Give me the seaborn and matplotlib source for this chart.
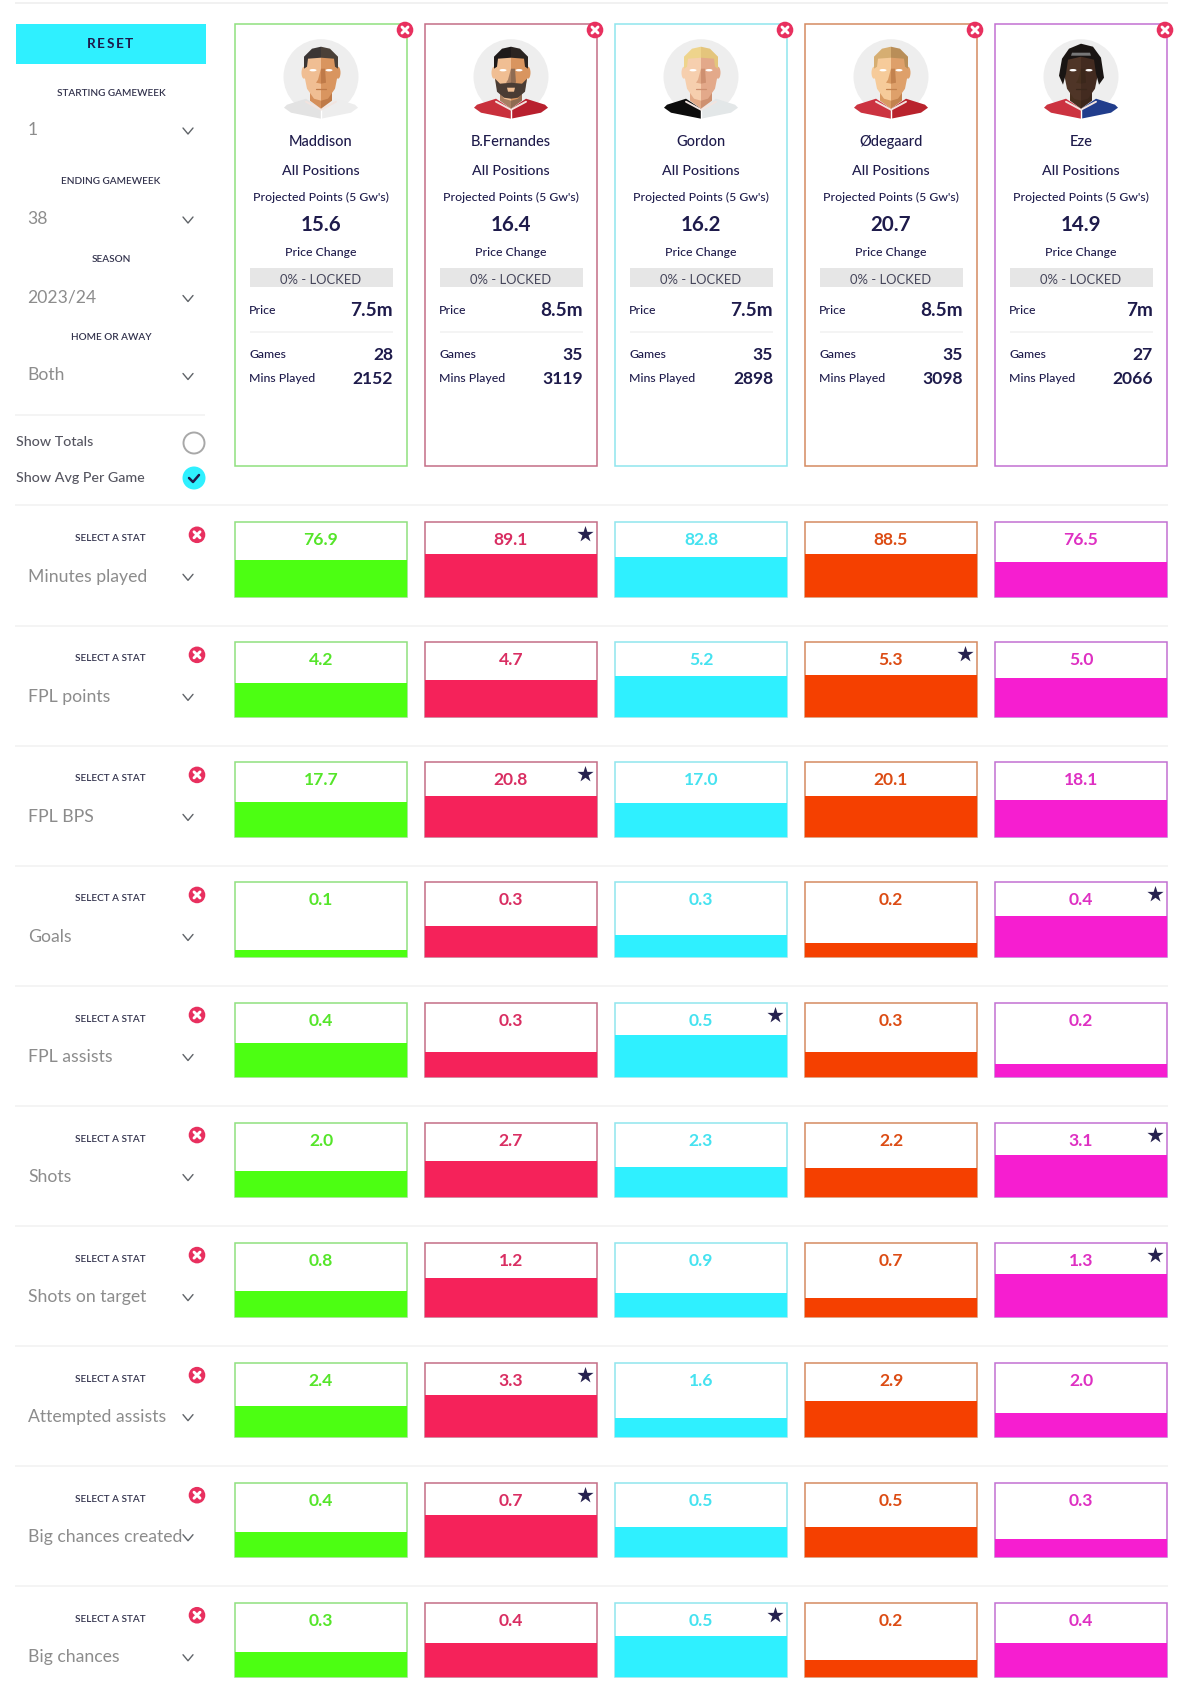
import matplotlib
matplotlib.use("Agg")
import matplotlib.pyplot as plt
from matplotlib.patches import Circle, Ellipse, Polygon, Rectangle
import pandas as pd
import seaborn as sns

# ---------- data ----------
players = ["Maddison", "B.Fernandes", "Gordon", "Ødegaard", "Eze"]
projected = [15.6, 16.4, 16.2, 20.7, 14.9]
prices = ["7.5m", "8.5m", "7.5m", "8.5m", "7m"]
games = [28, 35, 35, 35, 27]
mins_played = [2152, 3119, 2898, 3098, 2066]

stat_names = ["Minutes played", "FPL points", "FPL BPS", "Goals", "FPL assists",
              "Shots", "Shots on target", "Attempted assists",
              "Big chances created", "Big chances"]

minutes_vals = [76.9, 89.1, 82.8, 88.5, 76.5]
points_vals = [4.2, 4.7, 5.2, 5.3, 5.0]
bps_vals = [17.7, 20.8, 17.0, 20.1, 18.1]
goals_vals = [0.1, 0.3, 0.3, 0.2, 0.4]
assists_vals = [0.4, 0.3, 0.5, 0.3, 0.2]
shots_vals = [2.0, 2.7, 2.3, 2.2, 3.1]
on_target_vals = [0.8, 1.2, 0.9, 0.7, 1.3]
attempted_vals = [2.4, 3.3, 1.6, 2.9, 2.0]
created_vals = [0.4, 0.7, 0.5, 0.5, 0.3]
chances_vals = [0.3, 0.4, 0.5, 0.2, 0.4]
stat_values = [minutes_vals, points_vals, bps_vals, goals_vals, assists_vals,
               shots_vals, on_target_vals, attempted_vals, created_vals, chances_vals]

# Share of each box that is filled, in percent
minutes_fill = [50, 57, 53, 57, 47]
points_fill = [45, 50, 55, 56, 52]
bps_fill = [47, 55, 46, 55, 50]
goals_fill = [9, 42, 29, 19, 55]
assists_fill = [45, 33, 56, 33, 17]
shots_fill = [35, 48, 40, 39, 56]
on_target_fill = [35, 52, 32, 26, 58]
attempted_fill = [42, 56, 26, 49, 33]
created_fill = [34, 56, 41, 41, 25]
chances_fill = [34, 46, 56, 23, 46]
stat_fills = [minutes_fill, points_fill, bps_fill, goals_fill, assists_fill,
              shots_fill, on_target_fill, attempted_fill, created_fill, chances_fill]

best_player = [1, 3, 1, 4, 2, 4, 4, 1, 1, 2]

fill_colors = ["#4CFF12", "#F5225A", "#2FF0FF", "#F54000", "#F61ED0"]
edge_colors = ["#8FE07F", "#C46E86", "#8FE5EE", "#D58A60", "#C270D2"]
text_colors = ["#55E52A", "#D92E62", "#45E2F0", "#DC4C14", "#DE30C2"]

# ---------- style ----------
sns.set_theme(style="white")
plt.rcParams["font.family"] = ["Lato", "DejaVu Sans"]
NAVY = "#1E1B4B"
GREY = "#8C8C8C"
LINE = "#F1F1F1"
CYAN = "#2FF0FF"
PINK = "#E8305F"
W, H = 1200, 1702
fig = plt.figure(figsize=(W / 100, H / 100), dpi=100, facecolor="white")

# Stat rows, one axes for each row, categories across
COL0, PITCH, BOX_W = 235, 190, 172
ROW0, ROW_PITCH, BOX_H = 522.3, 120.05, 74.5
X_LEFT = COL0 + BOX_W / 2 - PITCH / 2
for r, (vals, fills) in enumerate(zip(stat_values, stat_fills)):
    top = ROW0 + r * ROW_PITCH
    ax = fig.add_axes([X_LEFT / W, 1 - (top + BOX_H) / H, 5 * PITCH / W, BOX_H / H])
    df = pd.DataFrame({"player": players, "fill": fills, "box": [100] * 5})
    sns.barplot(data=df, x="player", y="box", color="white", width=BOX_W / PITCH,
                edgecolor="black", linewidth=1.1, ax=ax, zorder=1, clip_on=False, saturation=1)
    for patch, c in zip(ax.patches, edge_colors):
        patch.set_edgecolor(c)
    sns.barplot(data=df, x="player", y="fill", hue="player", palette=fill_colors, legend=False,
                width=BOX_W / PITCH, dodge=False, linewidth=0, ax=ax, zorder=2, saturation=1)
    ax.set_xlim(-0.5, 4.5)
    ax.set_ylim(0, 100)
    ax.axis("off")

# Everything else in page pixels
ov = fig.add_axes([0, 0, 1, 1], zorder=5)
ov.set_xlim(0, W)
ov.set_ylim(H, 0)
ov.axis("off")
ov.patch.set_alpha(0)


def T(x, y, s, px, color=NAVY, ha="center", weight="normal"):
    ov.text(x, y, s, fontsize=px * 0.72, color=color, ha=ha, va="center", fontweight=weight)


def hline(y, x0=15, x1=1168, c=LINE):
    ov.plot([x0, x1], [y, y], color=c, lw=1.1, solid_capstyle="butt")


def chevron(x, y):
    ov.plot([x - 5, x, x + 5], [y - 3, y + 3, y - 3], color="#5F6368", lw=1.0)


def close_btn(x, y):
    ov.add_patch(Circle((x, y), 8.3, color=PINK, lw=0, zorder=6))
    d = 3
    for sgn in (1, -1):
        ov.plot([x - d, x + d], [y - sgn * d, y + sgn * d], color="white", lw=2.1,
                solid_capstyle="round", zorder=7)


def poly(cx, cy, pts, color, z=3):
    ov.add_patch(Polygon([(cx + a, cy + b) for a, b in pts], closed=True, color=color, lw=0, zorder=z))


def avatar(cx, cy, skin, hair, shirt, beard=None, ears=True, dread=False):
    ov.add_patch(Circle((cx, cy), 37.5, color="#EEEEEE", lw=0, zorder=2))
    # shirt
    poly(cx, cy, [(-37, 31), (-34, 28), (-15, 22), (0, 32), (0, 42), (-30, 36)], shirt[0])
    poly(cx, cy, [(37, 31), (34, 28), (15, 22), (0, 32), (0, 42), (30, 36)], shirt[1])
    ov.plot([cx, cx], [cy + 32, cy + 42], color="white", lw=1, zorder=4)
    ov.plot([cx - 15, cx, cx + 15], [cy + 25, cy + 33, cy + 25], color="#F2E4DF", lw=1.4, zorder=4)
    # neck
    poly(cx, cy, [(-11, 14), (0, 14), (0, 32), (-11, 24)], skin[2], 4)
    poly(cx, cy, [(11, 14), (0, 14), (0, 32), (11, 24)], skin[3], 4)
    # ears
    if ears:
        ov.add_patch(Ellipse((cx - 17, cy - 4), 5, 12, color=skin[0], lw=0, zorder=4))
        ov.add_patch(Ellipse((cx + 17, cy - 4), 5, 12, color=skin[1], lw=0, zorder=4))
    # face
    poly(cx, cy, [(-16, -18), (0, -22), (0, 24), (-7, 22), (-14, 12), (-16, 2)], skin[0], 5)
    poly(cx, cy, [(16, -18), (0, -22), (0, 24), (7, 22), (14, 12), (16, 2)], skin[1], 5)
    # nose
    poly(cx, cy, [(0, -8), (4, -8), (5, 6), (0, 7)], skin[3], 6)
    poly(cx, cy, [(0, -8), (-3, 3), (-5, 6), (0, 7)], skin[2], 6)
    # mouth
    ov.plot([cx - 5, cx + 5], [cy + 12, cy + 12], color=skin[3], lw=0.9, zorder=6)
    # beard
    if beard:
        poly(cx, cy, [(-16, 2), (-11, 7), (0, 6), (11, 7), (16, 2), (14, 15), (7, 21), (0, 22),
                      (-7, 21), (-14, 15)], beard, 6)
        poly(cx, cy, [(-4, 11), (4, 11), (3, 15), (-3, 15)], skin[0], 7)
    # hair
    if dread:
        poly(cx, cy, [(-22, -1), (-19, -18), (-12, -28), (0, -33), (12, -30), (20, -19), (23, 1),
                      (18, 8), (15, -3), (13, -17), (0, -20), (-13, -17), (-15, -3), (-18, 8)], hair[0], 7)
        poly(cx, cy, [(-9, -24), (9, -24), (10, -21), (-10, -21)], "#777777", 8)
    else:
        poly(cx, cy, [(-17, -8), (-17, -20), (-9, -28), (0, -30), (0, -19), (-13, -18), (-14, -10)], hair[0], 7)
        poly(cx, cy, [(17, -8), (17, -20), (9, -28), (0, -30), (0, -19), (13, -18), (14, -10)], hair[1], 7)
    # eyes
    for s in (-1, 1):
        ov.add_patch(Ellipse((cx + s * 8, cy - 6.5), 7, 2.4, color="white", lw=0, zorder=8))


avatar_styles = [
    dict(skin=("#F0BE93", "#D9955F", "#D58F5A", "#BF7A48"), hair=("#3B3635", "#4A4038"), shirt=("#E3E3E3", "#EDEDED")),
    dict(skin=("#F0BE93", "#D9955F", "#A87F62", "#8F6B52"), hair=("#1E1A1A", "#2A2421"), shirt=("#C9303C", "#B8202E"), beard="#4A3C34"),
    dict(skin=("#F6CFAE", "#E3A98A", "#E2AA87", "#CE9070"), hair=("#EED48C", "#E4C57C"), shirt=("#0C0C0C", "#E3E7E8")),
    dict(skin=("#F6CB9A", "#DEA06A", "#D99A62", "#C3824E"), hair=("#D6AE72", "#B98E58"), shirt=("#CC3340", "#B9232D")),
    dict(skin=("#4F3527", "#432B20", "#47301F", "#3B271B"), hair=("#1A1513", "#1A1513"), shirt=("#CC3340", "#213D8C"), ears=False, dread=True),
]

# Left panel
hline(2.5, c="#EDEDED")
ov.add_patch(Rectangle((15.5, 24), 190, 40, color=CYAN, lw=0))
for k, ch in enumerate("RESET"):
    T(110 + (k - 2) * 9.6, 44, ch, 13.5, weight="bold")
filters = [("STARTING GAMEWEEK", "1", 93, 130), ("ENDING GAMEWEEK", "38", 182, 219),
           ("SEASON", "2023/24", 260, 297.5), ("HOME OR AWAY", "Both", 338, 375.5)]
for lab, val, y0, y1 in filters:
    T(111, y0, lab, 10, color="#33334D", weight="semibold")
    T(27.5, y1, val, 17.5, color=GREY, ha="left")
    chevron(188, y1 + 1)
hline(414.5, 15, 205)
T(15.5, 442, "Show Totals", 14.3, color="#555560", ha="left", weight="medium")
T(15.5, 478, "Show Avg Per Game", 14.3, color="#555560", ha="left", weight="medium")
ov.add_patch(Circle((194, 443), 10.5, facecolor="white", edgecolor="#A8A8A8", lw=1.4))
ov.add_patch(Circle((194, 478), 11.5, color=CYAN, lw=0))
ov.plot([189, 193, 199], [478, 482, 475], color=NAVY, lw=1.8, zorder=6)

# Player cards
for i, name in enumerate(players):
    x0 = COL0 + i * PITCH
    cx = x0 + BOX_W / 2
    x1 = x0 + BOX_W
    ov.add_patch(Rectangle((x0, 24), BOX_W, 442, facecolor="none", edgecolor=edge_colors[i], lw=1.1))
    close_btn(x1 - 2, 30)
    avatar(cx, 76.7, **avatar_styles[i])
    T(cx, 142, name, 14.6, weight="medium")
    T(cx, 171, "All Positions", 14.2, weight="medium")
    T(cx, 197, "Projected Points (5 Gw's)", 12.2, weight="medium")
    T(cx, 225, f"{projected[i]:.1f}", 20.5, weight="bold")
    T(cx, 252.5, "Price Change", 12.2, weight="medium")
    ov.add_patch(Rectangle((x0 + 15, 268), 143, 19, color="#E6E6E6", lw=0))
    T(cx, 280.5, "0% - LOCKED", 13, color="#45455A")
    T(x0 + 14, 310, "Price", 12.2, ha="left", weight="medium")
    T(x1 - 14, 310, prices[i], 19, ha="right", weight="bold")
    hline(332, x0 + 15, x1 - 14)
    T(x0 + 14, 355, "Games", 12.2, ha="left", weight="medium")
    T(x1 - 14, 355, str(games[i]), 17.5, ha="right", weight="bold")
    T(x0 + 14, 378, "Mins Played", 12.2, ha="left", weight="medium")
    T(x1 - 14, 379, str(mins_played[i]), 17.5, ha="right", weight="bold")

# Stat rows: labels and controls
hline(505)
for r, name in enumerate(stat_names):
    top = ROW0 + r * ROW_PITCH
    if r < 9:
        hline(top + 103.5)
    T(110.5, top + 16.5, "SELECT A STAT", 10, color="#33334D", weight="semibold")
    close_btn(197, top + 12.5)
    T(28, top + 54.5, name, 17.6, color=GREY, ha="left")
    chevron(188, top + 55)
    for i in range(5):
        cx = COL0 + i * PITCH + BOX_W / 2
        T(cx, top + 18, f"{stat_values[r][i]:.1f}", 17.5, color=text_colors[i], weight="bold")
    star_x = COL0 + best_player[r] * PITCH + BOX_W - 12
    ov.scatter([star_x], [top + 12], marker="*", s=150, color="#25214F", lw=0, zorder=6)

fig.savefig("out.png", dpi=100, facecolor="white")
